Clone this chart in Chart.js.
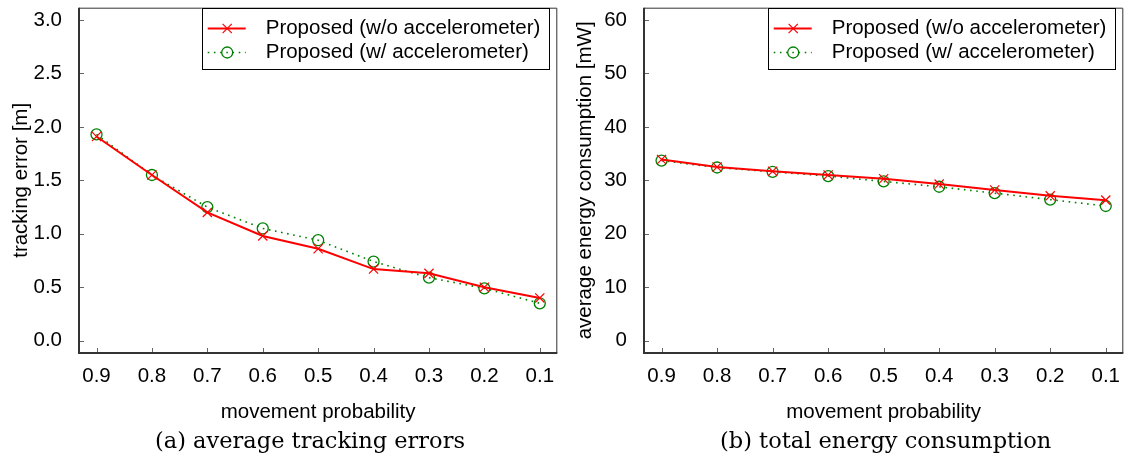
<!DOCTYPE html>
<html>
<head>
<meta charset="utf-8">
<script src="https://cdn.jsdelivr.net/npm/chart.js@4.4.0/dist/chart.umd.min.js"></script>
<style>
  body { margin: 0; background: #fff; }
  .wrap { position: relative; width: 1131px; height: 465px; overflow: hidden; }
  .panel { position: absolute; top: 0; }
  .caption { position: absolute; top: 427px; line-height: 26px; font-family: "DejaVu Serif", serif; font-size: 22.5px; color: #000; white-space: nowrap; }
</style>
</head>
<body>
<div class="wrap">
  <canvas id="chartA" class="panel" width="565" height="430" style="left:0"></canvas>
  <canvas id="chartB" class="panel" width="566" height="430" style="left:565px"></canvas>
  <div class="caption" style="left:155px">(a) average tracking errors</div>
  <div class="caption" style="left:720px">(b) total energy consumption</div>
</div>
<script>
const probs = [0.9, 0.8, 0.7, 0.6, 0.5, 0.4, 0.3, 0.2, 0.1];
const seriesNames = ['Proposed (w/o accelerometer)', 'Proposed (w/ accelerometer)'];

// (a) tracking error [m]
const errNoAcc = [1.91, 1.55, 1.20, 0.98, 0.86, 0.67, 0.63, 0.50, 0.40];
const errAcc = [1.93, 1.55, 1.25, 1.05, 0.94, 0.74, 0.59, 0.49, 0.35];
const errTicks = [0, 0.5, 1.0, 1.5, 2.0, 2.5, 3.0];

// (b) energy consumption [mW]
const energyNoAcc = [33.9, 32.5, 31.7, 31.0, 30.3, 29.3, 28.2, 27.1, 26.3];
const energyAcc = [33.7, 32.4, 31.6, 30.8, 29.8, 28.8, 27.6, 26.4, 25.2];
const energyTicks = [0, 10, 20, 30, 40, 50, 60];

const FONT = { family: 'Liberation Sans, Arial, sans-serif', size: 20.5 };

/*axis frame and inward tick marks*/
const frameTicks = {
  id: 'frameTicks',
  beforeDatasetsDraw(chart) {
    const { ctx, chartArea: a, scales: { x, y } } = chart;
    ctx.save();
    ctx.strokeStyle = '#666';
    ctx.lineWidth = 1;
    ctx.beginPath();
    x.ticks.forEach(t => {
      const px = Math.round(x.getPixelForValue(t.value)) + 0.5;
      ctx.moveTo(px, a.bottom);
      ctx.lineTo(px, a.bottom - 5);
    });
    y.ticks.forEach(t => {
      const py = Math.round(y.getPixelForValue(t.value)) + 0.5;
      ctx.moveTo(a.left, py);
      ctx.lineTo(a.left + 5, py);
    });
    ctx.stroke();

    ctx.strokeStyle = '#333';
    ctx.beginPath();
    ctx.moveTo(a.left, a.top + 0.5);
    ctx.lineTo(a.right - 0.5, a.top + 0.5);
    ctx.lineTo(a.right - 0.5, a.bottom);
    ctx.stroke();
    ctx.lineWidth = 2;
    ctx.beginPath();
    ctx.moveTo(a.left, a.top);
    ctx.lineTo(a.left, a.bottom);
    ctx.lineTo(a.right, a.bottom);
    ctx.stroke();
    ctx.restore();
  }
};

/*legend box in the top right corner*/
const boxLegend = {
  id: 'boxLegend',
  afterDatasetsDraw(chart) {
    const { ctx, chartArea: a } = chart;
    const sets = chart.data.datasets;
    ctx.save();
    ctx.font = FONT.size + 'px ' + FONT.family;
    const textW = Math.max(...sets.map(d => ctx.measureText(d.label).width));
    const w = 64 + textW + 8;
    const left = a.right - 9 - w;
    const top = 8;
    ctx.fillStyle = '#fff';
    ctx.fillRect(left, top, w, 61);
    ctx.strokeStyle = '#000';
    ctx.lineWidth = 1;
    ctx.strokeRect(Math.round(left) + 0.5, top + 0.5, Math.round(w), 61);

    sets.forEach((d, i) => {
      const cy = top + 20.5 + i * 24;
      ctx.strokeStyle = d.borderColor;
      ctx.lineWidth = d.borderWidth;
      ctx.setLineDash(d.borderDash || []);
      ctx.beginPath();
      ctx.moveTo(left + 6, cy);
      ctx.lineTo(left + 44, cy);
      ctx.stroke();
      ctx.setLineDash([]);
      ctx.lineWidth = d.pointBorderWidth;
      ctx.fillStyle = 'rgba(0,0,0,0)';
      Chart.helpers.drawPoint(ctx, {
        pointStyle: d.pointStyle, radius: d.pointRadius, rotation: 0, borderWidth: d.pointBorderWidth
      }, left + 25.5, cy);
      ctx.fillStyle = '#000';
      ctx.textAlign = 'left';
      ctx.textBaseline = 'middle';
      ctx.fillText(d.label, left + 64, cy);
    });
    ctx.restore();
  }
};

function makeDatasets(a, b) {
  return [
    {
      label: seriesNames[0],
      data: probs.map((p, i) => ({ x: p, y: a[i] })),
      borderColor: '#ff0000',
      borderWidth: 2,
      pointStyle: 'crossRot',
      pointRadius: 6.5,
      pointBorderWidth: 1.2,
      pointBorderColor: '#ff0000',
      tension: 0
    },
    {
      label: seriesNames[1],
      data: probs.map((p, i) => ({ x: p, y: b[i] })),
      borderColor: '#008000',
      borderWidth: 1.6,
      borderDash: [1.6, 4.6],
      pointStyle: 'circle',
      pointRadius: 5.5,
      pointBorderWidth: 1.3,
      pointBorderColor: '#008000',
      pointBackgroundColor: 'rgba(0,0,0,0)',
      tension: 0
    }
  ];
}

function makeOptions(yTicks, yPad, yTitle, titlePad, fmt) {
  const span = yTicks[yTicks.length - 1] - yTicks[0];
  return {
    responsive: false,
    animation: false,
    events: [],
    layout: { padding: { top: 3, right: 2, left: 0, bottom: 0 } },
    plugins: { legend: { display: false }, tooltip: { enabled: false } },
    scales: {
      x: {
        type: 'linear',
        reverse: true,
        min: 0.1 - 0.0316,
        max: 0.9 + 0.0316,
        afterBuildTicks: s => { s.ticks = probs.map(v => ({ value: v })); },
        afterFit: s => { s.height = 77; s.paddingLeft = 0; s.paddingRight = 0; },
        grid: { display: false, drawTicks: false },
        border: { display: false },
        ticks: {
          autoSkip: false, maxRotation: 0, padding: 11, color: '#000', font: FONT,
          callback: v => v.toFixed(1)
        },
        title: {
          display: true, text: 'movement probability', color: '#000', font: FONT,
          padding: { top: 0, bottom: 5 }
        }
      },
      y: {
        type: 'linear',
        min: yTicks[0] - span * yPad,
        max: yTicks[yTicks.length - 1] + span * yPad,
        afterBuildTicks: s => { s.ticks = yTicks.map(v => ({ value: v })); },
        afterFit: s => { s.width = 79; s.paddingTop = 0; s.paddingBottom = 0; },
        grid: { display: false, drawTicks: false },
        border: { display: false },
        ticks: { padding: 17, color: '#000', font: FONT, callback: fmt },
        title: {
          display: true, text: yTitle, color: '#000', font: FONT,
          padding: { top: titlePad, bottom: 0 }
        }
      }
    }
  };
}

new Chart(document.getElementById('chartA'), {
  type: 'line',
  data: { datasets: makeDatasets(errNoAcc, errAcc) },
  options: makeOptions(errTicks, 0.0383, 'tracking error [m]', 9.4, v => v.toFixed(1)),
  plugins: [frameTicks, boxLegend]
});

new Chart(document.getElementById('chartB'), {
  type: 'line',
  data: { datasets: makeDatasets(energyNoAcc, energyAcc) },
  options: makeOptions(energyTicks, 0.0383, 'average energy consumption [mW]', 7.7, v => String(v)),
  plugins: [frameTicks, boxLegend]
});
</script>
</body>
</html>
